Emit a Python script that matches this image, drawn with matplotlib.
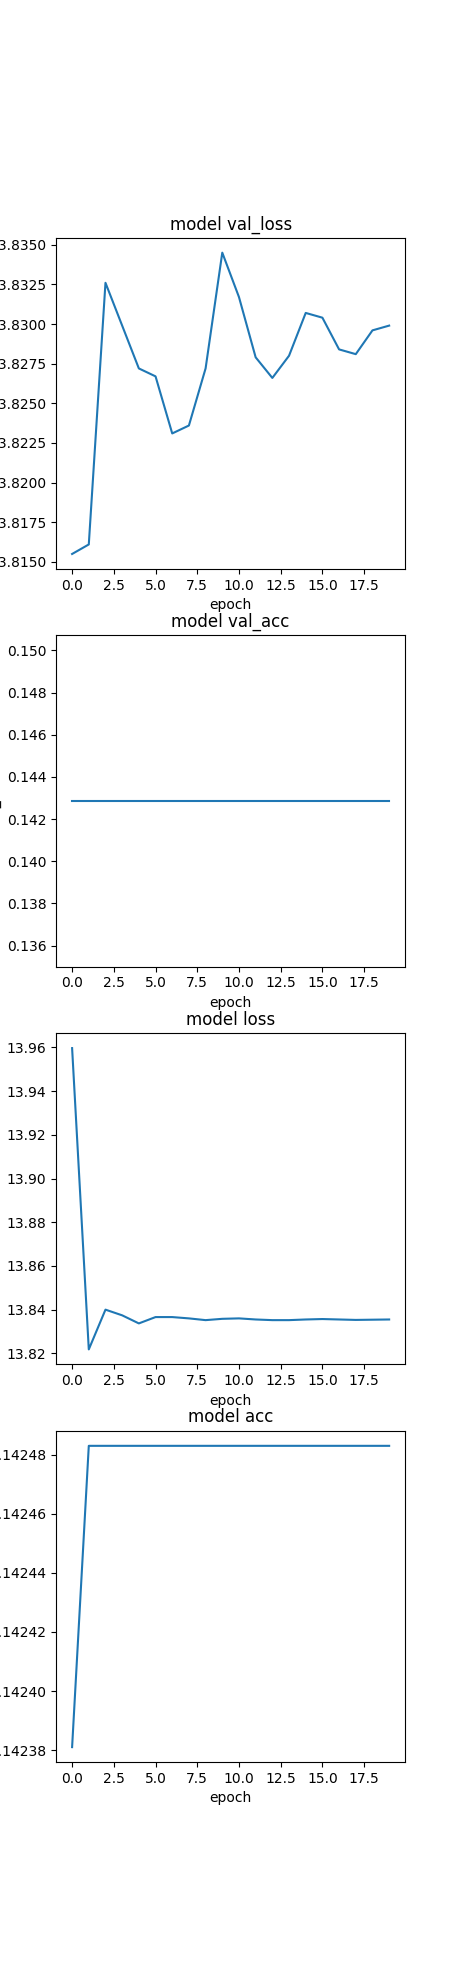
import numpy as np
import matplotlib
matplotlib.use("Agg")
import matplotlib.pyplot as plt
from matplotlib.ticker import MultipleLocator

epochs = list(range(20))
val_loss = [13.8155, 13.8161, 13.8326, 13.8299, 13.8272, 13.8267, 13.8231, 13.8236, 13.8272, 13.8345,
            13.8317, 13.8279, 13.8266, 13.8280, 13.8307, 13.8304, 13.8284, 13.8281, 13.8296, 13.8299]
val_acc = [1 / 7] * 20
loss = [13.9597, 13.8218, 13.8400, 13.8374, 13.8337, 13.8366, 13.8366, 13.8360, 13.8352, 13.8358,
        13.8360, 13.8355, 13.8352, 13.8352, 13.8355, 13.8357, 13.8355, 13.8353, 13.8354, 13.8355]
acc = [0.142381] + [0.142483] * 19

plt.figure(figsize=(4.5, 19.8))
for i, (name, vals) in enumerate([("val_loss", val_loss), ("val_acc", val_acc),
                                  ("loss", loss), ("acc", acc)]):
    plt.subplot(4, 1, i + 1)
    plt.plot(epochs, vals)
    plt.gca().xaxis.set_major_locator(MultipleLocator(2.5))
    plt.title("model " + name)
    plt.ylabel(name)
    plt.xlabel("epoch")

plt.savefig("out.png", dpi=100)
